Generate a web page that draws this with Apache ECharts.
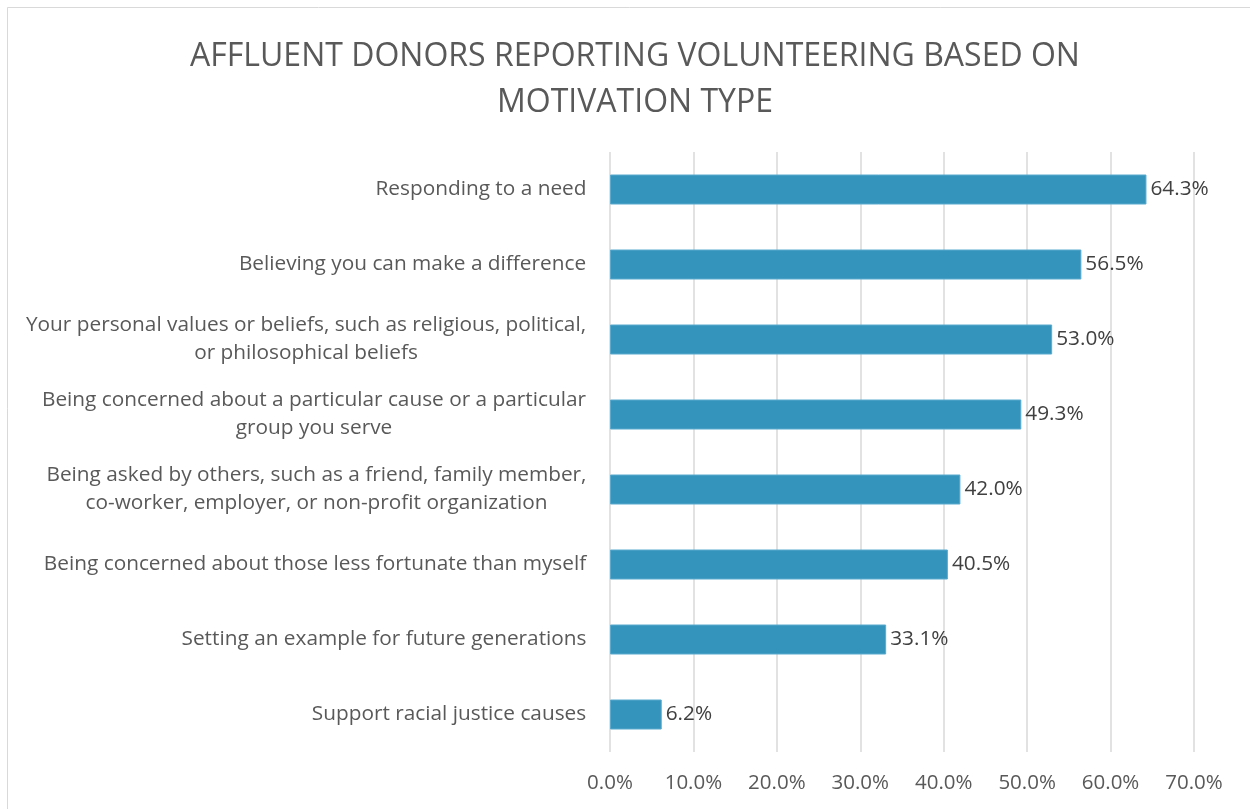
<!DOCTYPE html>
<html>
<head>
<meta charset="utf-8">
<script src="https://cdn.jsdelivr.net/npm/echarts@6/dist/echarts.min.js"></script>
<style>
html,body{margin:0;padding:0;background:#fff;}
#chart{width:1250px;height:809px;}
</style>
</head>
<body>
<div id="chart"></div>
<script>
var titleText = 'AFFLUENT DONORS REPORTING VOLUNTEERING BASED ON\nMOTIVATION TYPE';
var categories = [
  'Responding to a need',
  'Believing you can make a difference',
  'Your personal values or beliefs, such as religious, political,\nor philosophical beliefs',
  'Being concerned about a particular cause or a particular\ngroup you serve',
  'Being asked by others, such as a friend, family member,\nco-worker, employer, or non-profit organization',
  'Being concerned about those less fortunate than myself',
  'Setting an example for future generations',
  'Support racial justice causes'
];
var values = [64.3, 56.5, 53.0, 49.3, 42.0, 40.5, 33.1, 6.2];
var xTicks = [0, 10, 20, 30, 40, 50, 60, 70];

var FONT = 'Open Sans';
var LABEL_SIZE = 20.8;

// measure text widths so multi-line category labels are centered within their block
var cv = document.createElement('canvas').getContext('2d');
cv.font = LABEL_SIZE + 'px "' + FONT + '"';
var rich = {};
categories.forEach(function (c, i) {
  var w = 0;
  c.split('\n').forEach(function (ln) { w = Math.max(w, cv.measureText(ln).width); });
  rich['l' + i] = { width: Math.ceil(w) + 1, align: 'center', fontSize: LABEL_SIZE, fontFamily: FONT, color: '#595959', lineHeight: 28 };
});

var chart = echarts.init(document.getElementById('chart'), null, { renderer: 'canvas' });
chart.setOption({
  backgroundColor: '#ffffff',
  animation: false,
  textStyle: { fontFamily: FONT },
  graphic: [{
    type: 'rect', shape: { x: 7.5, y: 7.5, width: 1400, height: 1000 },
    style: { fill: 'none', stroke: '#d9d9d9', lineWidth: 1 }, silent: true
  }],
  title: {
    text: titleText,
    left: 630, top: 29, textAlign: 'center',
    textStyle: { fontFamily: FONT, fontSize: 32, fontWeight: 'normal', color: '#595959', lineHeight: 46 }
  },
  grid: { left: 610, right: 56, top: 152, bottom: 57 },
  xAxis: {
    type: 'value', min: xTicks[0], max: xTicks[xTicks.length - 1], interval: 10,
    axisLine: { show: false }, axisTick: { show: false },
    splitLine: { show: true, lineStyle: { color: '#d9d9d9', width: 1.5 } },
    axisLabel: {
      margin: 21, fontSize: 20.5, fontFamily: FONT, color: '#595959',
      formatter: function (v) { return v.toFixed(1) + '%'; }
    }
  },
  yAxis: {
    type: 'category', data: categories, inverse: true,
    axisLine: { show: false }, axisTick: { show: false },
    axisLabel: {
      margin: 23,
      formatter: function (v, i) {
        return v.split('\n').map(function (ln) { return '{l' + i + '|' + ln + '}'; }).join('\n');
      },
      rich: rich
    }
  },
  series: [{
    type: 'bar', data: values, barWidth: '40%',
    itemStyle: { color: '#3594BC', borderColor: '#5BAAD0', borderWidth: 1 },
    label: {
      show: true, position: 'right', distance: 4,
      fontSize: 20.8, fontFamily: FONT, color: '#404040',
      formatter: function (p) { return p.value.toFixed(1) + '%'; }
    }
  }]
});
</script>
</body>
</html>
